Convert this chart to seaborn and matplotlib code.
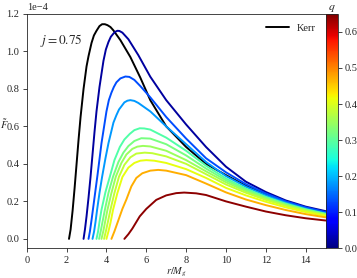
import numpy as np
import pandas as pd
import matplotlib
matplotlib.use('Agg')
import matplotlib.pyplot as plt
import seaborn as sns

# Kerr reference curve (j = 0.75), flux in units of 1e-4
r_kerr = [2.12, 2.2, 2.3, 2.4, 2.5, 2.6, 2.7, 2.85, 3.0, 3.1, 3.25, 3.37, 3.5, 3.65, 3.78, 3.92, 4.05, 4.2, 4.35, 4.7, 5.2, 5.7, 6.2, 7, 8, 9, 10, 11, 12, 13, 14, 15]
f_kerr = [0, 0.05, 0.15, 0.27, 0.40, 0.53, 0.65, 0.80, 0.92, 0.975, 1.045, 1.085, 1.11, 1.135, 1.145, 1.145, 1.14, 1.13, 1.112, 1.06, 0.97, 0.86, 0.74, 0.60, 0.49, 0.40, 0.34, 0.283, 0.236, 0.198, 0.166, 0.14]

# non-Kerr curves, one per q
q_vals = [0.02, 0.13, 0.18, 0.29, 0.32, 0.35, 0.38, 0.41, 0.47, 0.64]

r_curves = [
    [2.85, 2.92, 3.0, 3.1, 3.2, 3.3, 3.4, 3.5, 3.65, 3.85, 3.97, 4.1, 4.22, 4.35, 4.45, 4.55, 4.65, 4.8, 5.1, 5.6, 6.2, 7, 8, 9, 10, 11, 12, 13, 14, 15],
    [3.1, 3.17, 3.25, 3.35, 3.45, 3.55, 3.75, 4.0, 4.12, 4.25, 4.37, 4.5, 4.7, 4.95, 5.15, 5.4, 5.7, 6.2, 7, 8, 9, 10, 11, 12, 13, 14, 15],
    [3.3, 3.38, 3.45, 3.53, 3.65, 3.78, 3.95, 4.1, 4.35, 4.5, 4.63, 4.9, 5.05, 5.2, 5.4, 5.6, 6.2, 7, 8, 9, 10, 11, 12, 13, 14, 15],
    [3.5, 3.58, 3.65, 3.75, 3.95, 4.17, 4.4, 4.67, 4.9, 5.17, 5.4, 5.67, 5.9, 6.2, 7, 8, 9, 10, 11, 12, 13, 14, 15],
    [3.63, 3.72, 3.8, 3.92, 4.1, 4.33, 4.6, 4.85, 5.1, 5.4, 5.75, 6.2, 7, 8, 9, 10, 11, 12, 13, 14, 15],
    [3.75, 3.85, 3.93, 4.05, 4.25, 4.47, 4.75, 5.0, 5.3, 5.55, 5.83, 6.2, 7, 8, 9, 10, 11, 12, 13, 14, 15],
    [3.88, 3.98, 4.07, 4.2, 4.4, 4.63, 4.9, 5.2, 5.5, 5.92, 6.3, 7, 8, 9, 10, 11, 12, 13, 14, 15],
    [4.0, 4.1, 4.2, 4.33, 4.55, 4.8, 5.1, 5.4, 5.7, 6.0, 6.4, 7, 8, 9, 10, 11, 12, 13, 14, 15],
    [4.25, 4.4, 4.6, 4.8, 5.0, 5.25, 5.5, 5.8, 6.2, 6.6, 7, 8, 9, 10, 11, 12, 13, 14, 15],
    [4.9, 5.1, 5.3, 5.67, 6.0, 6.5, 7.0, 7.5, 7.9, 8.5, 9, 10, 11, 12, 13, 14, 15],
]
f_curves = [
    [0, 0.05, 0.12, 0.22, 0.33, 0.45, 0.57, 0.68, 0.81, 0.95, 1.01, 1.05, 1.078, 1.095, 1.105, 1.11, 1.109, 1.1, 1.065, 0.98, 0.865, 0.74, 0.61, 0.49, 0.385, 0.305, 0.25, 0.205, 0.172, 0.148],
    [0, 0.04, 0.1, 0.18, 0.26, 0.34, 0.51, 0.68, 0.74, 0.78, 0.81, 0.835, 0.856, 0.866, 0.864, 0.848, 0.815, 0.755, 0.65, 0.535, 0.43, 0.355, 0.292, 0.242, 0.2, 0.168, 0.143],
    [0, 0.04, 0.09, 0.155, 0.245, 0.33, 0.43, 0.51, 0.62, 0.66, 0.69, 0.728, 0.737, 0.74, 0.736, 0.725, 0.68, 0.6, 0.505, 0.41, 0.335, 0.278, 0.232, 0.193, 0.161, 0.136],
    [0, 0.04, 0.09, 0.155, 0.25, 0.332, 0.42, 0.49, 0.53, 0.56, 0.58, 0.59, 0.589, 0.583, 0.54, 0.47, 0.39, 0.322, 0.268, 0.224, 0.188, 0.158, 0.134],
    [0, 0.045, 0.09, 0.155, 0.245, 0.332, 0.41, 0.46, 0.495, 0.522, 0.537, 0.535, 0.505, 0.445, 0.375, 0.312, 0.261, 0.219, 0.184, 0.155, 0.132],
    [0, 0.045, 0.09, 0.155, 0.245, 0.332, 0.405, 0.45, 0.48, 0.492, 0.496, 0.493, 0.47, 0.42, 0.36, 0.302, 0.254, 0.214, 0.18, 0.152, 0.129],
    [0, 0.045, 0.09, 0.155, 0.245, 0.332, 0.395, 0.435, 0.455, 0.46, 0.457, 0.44, 0.4, 0.345, 0.29, 0.246, 0.208, 0.176, 0.149, 0.126],
    [0, 0.04, 0.085, 0.155, 0.245, 0.33, 0.38, 0.405, 0.417, 0.42, 0.417, 0.405, 0.372, 0.325, 0.272, 0.232, 0.198, 0.168, 0.143, 0.122],
    [0, 0.04, 0.1, 0.16, 0.21, 0.28, 0.325, 0.35, 0.364, 0.368, 0.364, 0.34, 0.295, 0.248, 0.21, 0.18, 0.154, 0.132, 0.115],
    [0, 0.025, 0.055, 0.12, 0.16, 0.208, 0.232, 0.244, 0.247, 0.243, 0.234, 0.2, 0.172, 0.146, 0.126, 0.11, 0.098],
]

q_min, q_max = 0.0, 0.65

sns.set_style('ticks')
plt.rcParams['font.family'] = ['Liberation Serif', 'DejaVu Serif']
plt.rcParams['mathtext.fontset'] = 'stix'

rows = []
for q, rr, ff in zip(q_vals, r_curves, f_curves):
    for r, f in zip(rr, ff):
        rows.append((q, r, f * 1e-4))
df = pd.DataFrame(rows, columns=['q', 'r', 'F'])
df_kerr = pd.DataFrame({'r': r_kerr, 'F': np.array(f_kerr) * 1e-4})

jet = plt.get_cmap('jet')

fig = plt.figure(figsize=(3.57, 2.78), dpi=100)
ax = fig.add_axes([0.075, 0.107, 0.837, 0.843])
cax = fig.add_axes([0.913, 0.107, 0.033, 0.843])

sns.lineplot(data=df_kerr, x='r', y='F', color='black', lw=1.4, label='Kerr', ax=ax, estimator=None)
sns.lineplot(data=df, x='r', y='F', hue='q', units='q', estimator=None, palette=jet,
             hue_norm=(q_min, q_max), lw=1.4, legend=False, ax=ax)

ax.set_xlim(0, 15)
ax.set_ylim(-0.05e-4, 1.2e-4)
ax.set_xticks([0, 2, 4, 6, 8, 10, 12, 14])
ax.set_yticks(np.arange(0, 1.21, 0.2) * 1e-4)
ax.ticklabel_format(axis='y', style='sci', scilimits=(0, 0))
ax.tick_params(labelsize=7.5, length=3, width=0.6, pad=2.5)
ax.yaxis.get_offset_text().set_fontsize(7.5)
for s in ax.spines.values():
    s.set_linewidth(0.6)

ax.set_xlabel(r'$r/M_g$', fontsize=7.5, labelpad=1)
ax.set_ylabel(r'$\tilde{F}$', fontsize=7.5, rotation=0)
ax.yaxis.set_label_coords(-0.075, 0.5)
ax.text(0.045, 0.87, r'$j = 0.75$', transform=ax.transAxes, fontsize=9.5)

leg = ax.legend(loc='upper right', frameon=False, fontsize=7.5, handlelength=2.2,
                handletextpad=0.8, borderaxespad=0.5)

sm = plt.cm.ScalarMappable(cmap=jet, norm=plt.Normalize(q_min, q_max))
cb = fig.colorbar(sm, cax=cax, ticks=[0.0, 0.1, 0.2, 0.3, 0.4, 0.5, 0.6])
cb.ax.set_yticklabels(['0.0', '0.1', '0.2', '0.3', '0.4', '0.5', '0.6'])
cb.ax.tick_params(labelsize=7.5, length=3, width=0.6, pad=2)
cb.outline.set_linewidth(0.6)
cax.set_title(r'$q$', fontsize=8.5, pad=2)

fig.savefig('out.png', dpi=100)
